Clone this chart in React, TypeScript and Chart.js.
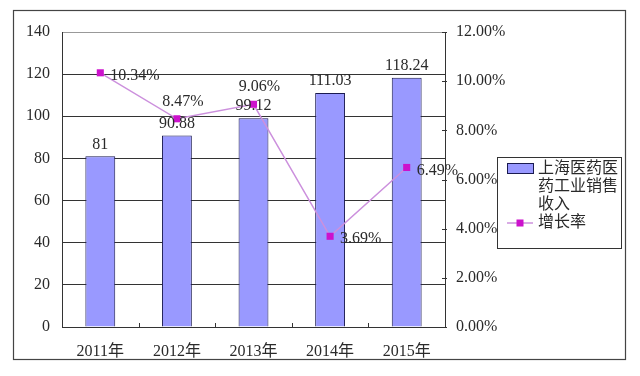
import React, { useEffect, useRef } from "react";
import { Chart, registerables } from "chart.js";

Chart.register(...registerables);

const categories = ["2011年", "2012年", "2013年", "2014年", "2015年"];
const salesRevenue = [81, 90.88, 99.12, 111.03, 118.24];
const growthRate = [10.34, 8.47, 9.06, 3.69, 6.49];
const growthLabelPlacement = ["right", "above", "above", "right", "right"];
const leftTicks = { min: 0, max: 140, step: 20 };
const rightTicks = { min: 0, max: 12, step: 2 };
const barLabel = "上海医药医药工业销售收入";
const lineLabel = "增长率";

const FONT = "'Liberation Serif', 'Noto Sans CJK SC', serif";
const TEXT = "#2a2a2a";
const BAR_FILL = "#9999FF";
const BAR_BORDER = "#1a1a50";
const LINE_COLOR = "#CC90DD";
const MARKER = "#CC11CC";

const overlay = {
  id: "overlay",
  afterDatasetsDraw(chart: any) {
    const ctx = chart.ctx;
    const barMeta = chart.getDatasetMeta(0);
    const lineMeta = chart.getDatasetMeta(1);
    ctx.save();
    ctx.font = `16px ${FONT}`;
    ctx.fillStyle = TEXT;
    ctx.textBaseline = "middle";
    ctx.textAlign = "center";
    barMeta.data.forEach((el: any, i: number) => {
      ctx.fillText(String(salesRevenue[i]), el.x, el.y - 12);
    });
    lineMeta.data.forEach((el: any, i: number) => {
      const txt = growthRate[i].toFixed(2) + "%";
      if (growthLabelPlacement[i] === "above") {
        ctx.textAlign = "center";
        ctx.fillText(txt, el.x + 6, el.y - 17);
      } else {
        ctx.textAlign = "left";
        ctx.fillText(txt, el.x + 10, el.y + 3);
      }
    });
    ctx.restore();
  },
  afterDraw(chart: any) {
    const ctx = chart.ctx;
    const area = chart.chartArea;
    const lineMeta = chart.getDatasetMeta(1);
    const y1 = chart.scales.y1;
    ctx.save();
    ctx.strokeStyle = "#333";
    ctx.lineWidth = 1;
    const pts = lineMeta.data;
    for (let i = 1; i < pts.length; i++) {
      const x = Math.round((pts[i - 1].x + pts[i].x) / 2) + 0.5;
      ctx.beginPath();
      ctx.moveTo(x, area.bottom - 4);
      ctx.lineTo(x, area.bottom);
      ctx.stroke();
    }
    y1.ticks.forEach((t: any) => {
      const y = Math.round(y1.getPixelForValue(t.value)) + 0.5;
      ctx.beginPath();
      ctx.moveTo(area.right - 3, y);
      ctx.lineTo(area.right + 2, y);
      ctx.stroke();
    });
    // legend
    const lx = 497.5, ly = 157.5, lw = 124, lh = 91;
    ctx.strokeStyle = "#333";
    ctx.strokeRect(lx, ly, lw, lh);
    ctx.fillStyle = BAR_FILL;
    ctx.fillRect(507, 163, 26, 10);
    ctx.strokeStyle = BAR_BORDER;
    ctx.strokeRect(507.5, 163.5, 26, 10);
    ctx.font = `16px ${FONT}`;
    ctx.fillStyle = TEXT;
    ctx.textAlign = "left";
    ctx.textBaseline = "middle";
    const lines: string[] = [];
    let cur = "";
    for (const ch of barLabel) {
      if (ctx.measureText(cur + ch).width > 82) {
        lines.push(cur);
        cur = ch;
      } else cur += ch;
    }
    if (cur) lines.push(cur);
    let ty = 169;
    lines.forEach((l) => {
      ctx.fillText(l, 538, ty);
      ty += 18;
    });
    ctx.strokeStyle = LINE_COLOR;
    ctx.lineWidth = 1.5;
    ctx.beginPath();
    ctx.moveTo(507, ty);
    ctx.lineTo(533, ty);
    ctx.stroke();
    ctx.fillStyle = MARKER;
    ctx.fillRect(516.5, ty - 3.5, 7, 7);
    ctx.fillStyle = TEXT;
    ctx.fillText(lineLabel, 538, ty);
    // outer frame
    ctx.strokeStyle = "#444";
    ctx.lineWidth = 1.2;
    ctx.strokeRect(13.5, 10.5, 612, 349);
    ctx.restore();
  },
};

export default function App() {
  const ref = useRef<HTMLCanvasElement>(null);
  useEffect(() => {
    if (!ref.current) return;
    Chart.defaults.font.family = FONT;
    Chart.defaults.font.size = 16;
    const chart = new Chart(ref.current, {
      type: "bar",
      data: {
        labels: categories,
        datasets: [
          {
            type: "bar",
            label: barLabel,
            data: salesRevenue,
            backgroundColor: BAR_FILL,
            borderColor: BAR_BORDER,
            borderWidth: 1,
            categoryPercentage: 1,
            barPercentage: 0.39,
            yAxisID: "y",
            order: 1,
          },
          {
            type: "line",
            label: lineLabel,
            data: growthRate,
            borderColor: LINE_COLOR,
            borderWidth: 1.5,
            pointStyle: "rect",
            pointRadius: 5,
            pointBackgroundColor: MARKER,
            pointBorderColor: MARKER,
            pointBorderWidth: 0,
            yAxisID: "y1",
            order: 0,
          },
        ],
      },
      options: {
        responsive: false,
        animation: false,
        layout: { padding: { top: 32, left: 0, right: 0, bottom: 0 } },
        plugins: {
          legend: { display: false },
          tooltip: { enabled: false },
        },
        scales: {
          x: {
            type: "category",
            offset: true,
            grid: { display: false },
            border: { display: true, color: "#333" },
            ticks: { color: TEXT, padding: 7, font: { size: 16 } },
            afterFit: (s: any) => {
              s.height = 49;
            },
          },
          y: {
            position: "left",
            min: leftTicks.min,
            max: leftTicks.max,
            ticks: { stepSize: leftTicks.step, color: TEXT, padding: 12, font: { size: 16 } },
            grid: {
              drawTicks: false,
              color: (c: any) => (c.tick && c.tick.value === leftTicks.max ? "#999" : "#333"),
            },
            border: { color: "#333" },
            afterFit: (s: any) => {
              s.width = 62;
            },
          },
          y1: {
            position: "right",
            min: rightTicks.min,
            max: rightTicks.max,
            ticks: {
              stepSize: rightTicks.step,
              color: TEXT,
              padding: 11,
              font: { size: 16 },
              callback: (v: any) => Number(v).toFixed(2) + "%",
            },
            grid: { drawOnChartArea: false, drawTicks: false },
            border: { color: "#333" },
            afterFit: (s: any) => {
              s.width = 195;
            },
          },
        },
      },
      plugins: [overlay],
    });
    return () => chart.destroy();
  }, []);
  return (
    <div style={{ position: "fixed", left: 0, top: 0, width: 640, height: 376, background: "#fff" }}>
      <canvas ref={ref} width={640} height={376} style={{ display: "block" }} />
    </div>
  );
}
